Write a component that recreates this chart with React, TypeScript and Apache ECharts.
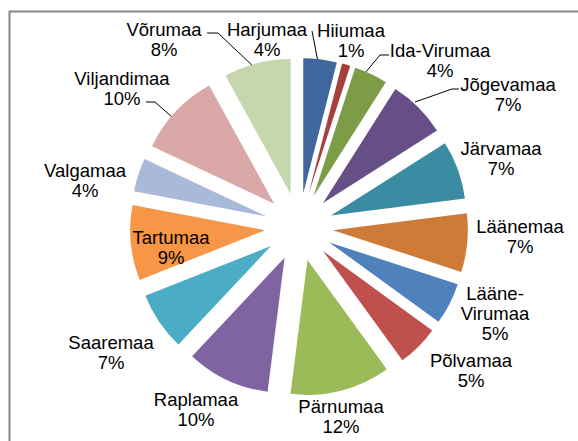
import React, { useEffect, useRef } from "react";
import * as echarts from "echarts";

const counties = [
  "Harjumaa", "Hiiumaa", "Ida-Virumaa", "Jõgevamaa", "Järvamaa", "Läänemaa",
  "Lääne-Virumaa", "Põlvamaa", "Pärnumaa", "Raplamaa", "Saaremaa", "Tartumaa",
  "Valgamaa", "Viljandimaa", "Võrumaa",
];
const shares = [4, 1, 4, 7, 7, 7, 5, 5, 12, 10, 7, 9, 4, 10, 8];
const colors = [
  "#3F679E", "#A83F3C", "#7D9C47", "#654F86", "#3A8CA3", "#CE7B37",
  "#4F81BD", "#C0504D", "#9BBB59", "#8064A2", "#4BACC6", "#F79646",
  "#A8B9DA", "#D9A8A7", "#C6D7AE",
];

// label layout (centre of each label block)
const labelPos: [number, number][] = [
  [267, 39], [351, 40], [440, 60], [508, 94], [501, 158], [520, 236],
  [495, 313], [471, 370], [341, 416], [196, 409], [111, 352], [171, 247],
  [85, 180], [122, 88], [164, 39],
];
const leaderLines: Record<number, number[][]> = {
  0: [[318, 62], [312, 31]],
  2: [[365, 73], [380, 55], [389, 55]],
  3: [[415, 102], [452, 89], [459, 89]],
  13: [[172, 117], [155, 102], [146, 102]],
  14: [[255, 68], [218, 33], [207, 33]],
};

const CENTER = [299, 227];
const RADIUS = 135;

export default function App() {
  const ref = useRef<HTMLDivElement>(null);
  useEffect(() => {
    if (!ref.current) return;
    const chart = echarts.init(ref.current, undefined, { renderer: "svg" });
    chart.setOption({
      animation: false,
      backgroundColor: "#ffffff",
      graphic: [
        {
          type: "line",
          shape: { x1: 9, y1: 11.5, x2: 578, y2: 11.5 },
          style: { stroke: "#868686", lineWidth: 2 },
          silent: true,
        },
        {
          type: "line",
          shape: { x1: 9.5, y1: 11, x2: 9.5, y2: 441 },
          style: { stroke: "#868686", lineWidth: 2 },
          silent: true,
        },
      ],
      series: [
        {
          type: "pie",
          center: CENTER,
          radius: [0, RADIUS],
          startAngle: 90,
          clockwise: true,
          selectedMode: "multiple",
          selectedOffset: 34,
          emphasis: { disabled: true },
          itemStyle: { borderWidth: 0 },
          label: { show: false },
          labelLine: { show: false },
          silent: true,
          data: counties.map((name, i) => ({
            name,
            value: shares[i],
            selected: true,
            itemStyle: { color: colors[i] },
          })),
        },
        {
          type: "pie",
          center: CENTER,
          radius: [0, RADIUS],
          startAngle: 90,
          clockwise: true,
          selectedMode: false,
          avoidLabelOverlap: false,
          emphasis: { disabled: true },
          silent: true,
          itemStyle: { color: "rgba(0,0,0,0)", borderWidth: 0 },
          label: {
            show: true,
            position: "outside",
            color: "#000",
            fontFamily: "'Liberation Sans', Arial, sans-serif",
            fontSize: 18.5,
            lineHeight: 20,
            formatter: (p: any) =>
              (p.name === "Lääne-Virumaa" ? "Lääne-\nVirumaa" : p.name) + "\n" + p.percent + "%",
          },
          labelLine: { show: true, lineStyle: { color: "#000", width: 1 } },
          labelLayout: (params: any) => {
            const i = params.dataIndex;
            const out: any = {
              x: labelPos[i][0],
              y: labelPos[i][1],
              align: "center",
              verticalAlign: "middle",
            };
            if (leaderLines[i]) out.labelLinePoints = leaderLines[i];
            return out;
          },
          data: counties.map((name, i) => ({
            name,
            value: shares[i],
            labelLine: { show: !!leaderLines[i] },
          })),
        },
      ],
    });
    return () => chart.dispose();
  }, []);
  return (
    <div
      ref={ref}
      style={{ position: "absolute", left: 0, top: 0, width: 578, height: 441 }}
    />
  );
}
